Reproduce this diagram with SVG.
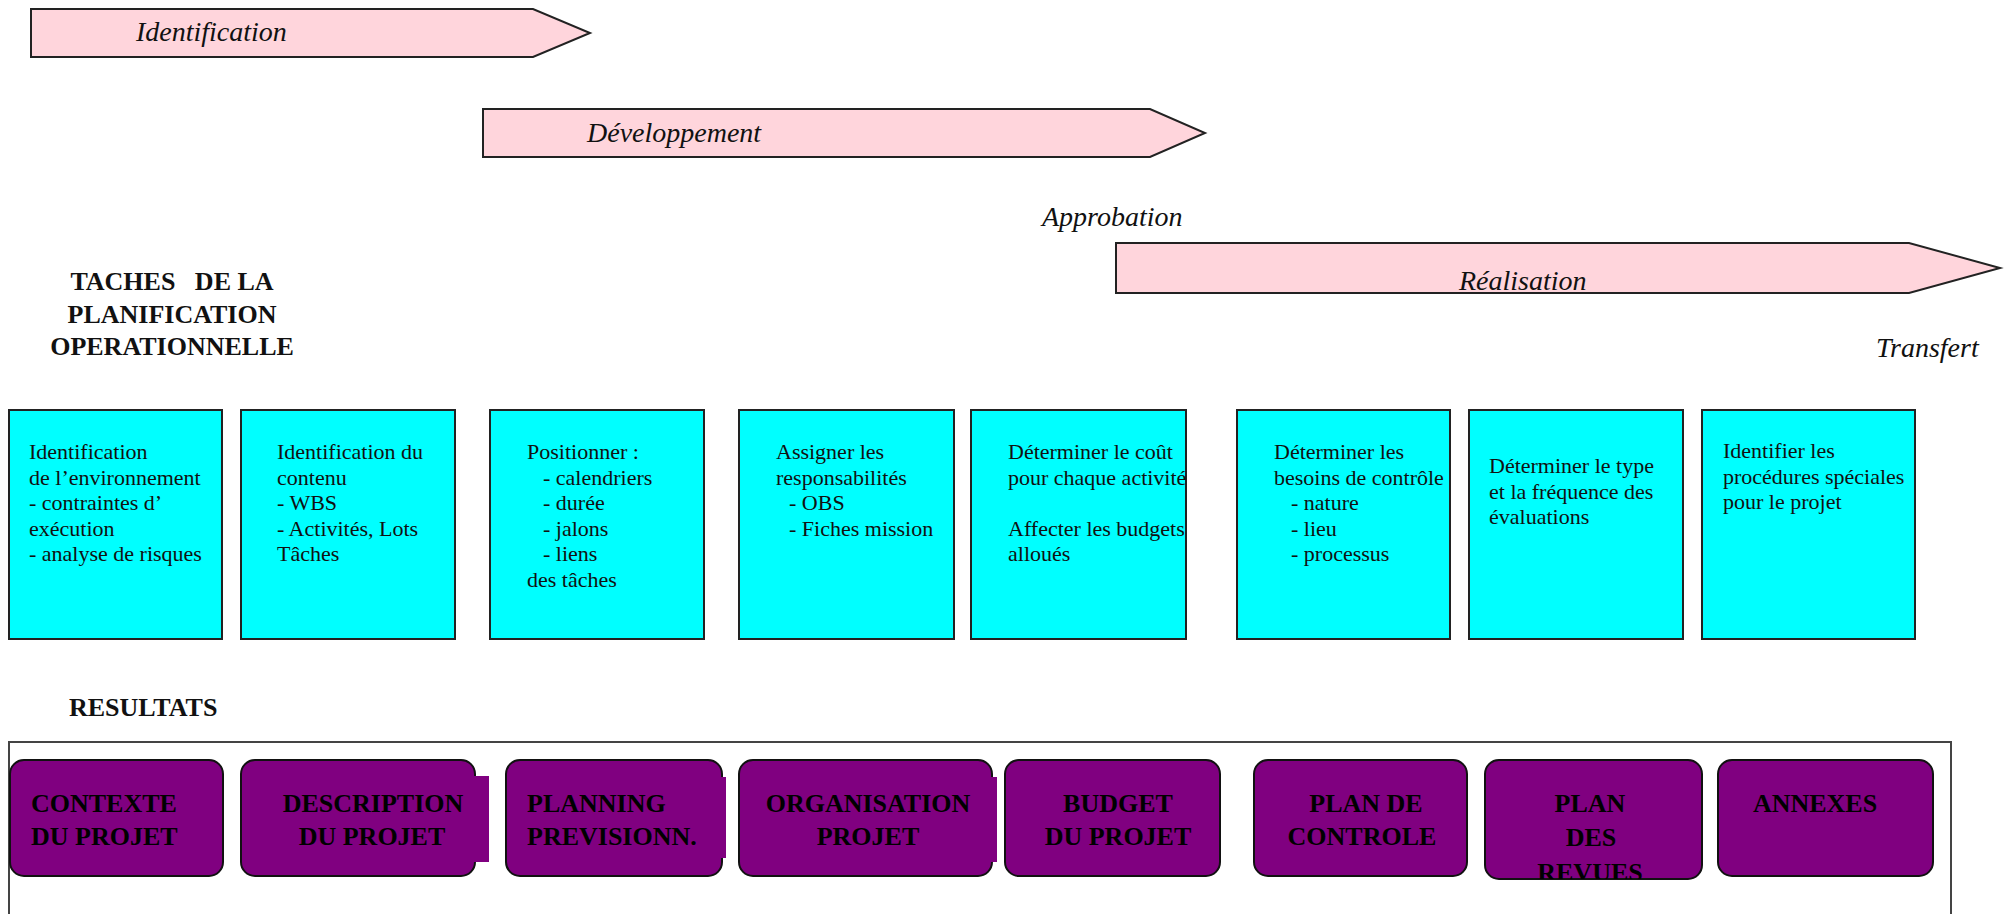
<svg xmlns="http://www.w3.org/2000/svg" width="2004" height="914" viewBox="0 0 2004 914">
<style>
.phase{fill:#FFD5DC;stroke:#222;stroke-width:2}
.task{fill:#00FFFF;stroke:#222;stroke-width:2}
.res{fill:#800080;stroke:#111;stroke-width:2}
.ext{fill:#800080}
.lbl{font-family:"Liberation Serif","Times New Roman",serif;font-style:italic;font-size:28px;fill:#111}
.hdr{font-family:"Liberation Serif","Times New Roman",serif;font-weight:bold;font-size:26px;fill:#111;white-space:pre}
.t{font-family:"Liberation Serif","Times New Roman",serif;font-size:22px;fill:#111}
.r{font-family:"Liberation Serif","Times New Roman",serif;font-weight:bold;font-size:26px;fill:#000}
.frame{fill:none;stroke:#444;stroke-width:2}
</style>
<defs>
<clipPath id="clipRevues"><rect x="1485" y="760" width="217" height="119"/></clipPath>
</defs>
<rect width="2004" height="914" fill="#fff"/>

<g id="phase-identification">
<polygon class="phase" points="31,9 533,9 590,33 533,57 31,57"/>
<text class="lbl" x="136" y="41">Identification</text>
</g>
<g id="phase-developpement">
<polygon class="phase" points="483,109 1150,109 1205,133 1150,157 483,157"/>
<text class="lbl" x="587" y="142">Développement</text>
</g>
<g id="label-approbation">
<text class="lbl" x="1042" y="226">Approbation</text>
</g>
<g id="phase-realisation">
<polygon class="phase" points="1116,243 1909,243 2000,268 1909,293 1116,293"/>
<text class="lbl" x="1459" y="290">Réalisation</text>
</g>
<g id="label-transfert">
<text class="lbl" x="1876" y="357">Transfert</text>
</g>

<g id="title-taches">
<text class="hdr" text-anchor="middle" x="172" y="290">TACHES   DE LA</text>
<text class="hdr" text-anchor="middle" x="172" y="323">PLANIFICATION</text>
<text class="hdr" text-anchor="middle" x="172" y="355">OPERATIONNELLE</text>
</g>

<g id="task-1">
<rect class="task" x="9" y="410" width="213" height="229"/>
<text class="t" y="459"><tspan x="29">Identification</tspan><tspan x="29" dy="25.5">de l’environnement</tspan><tspan x="29" dy="25.5">- contraintes d’</tspan><tspan x="29" dy="25.5">exécution</tspan><tspan x="29" dy="25.5">- analyse de risques</tspan></text>
</g>
<g id="task-2">
<rect class="task" x="241" y="410" width="214" height="229"/>
<text class="t" y="459"><tspan x="277">Identification du</tspan><tspan x="277" dy="25.5">contenu</tspan><tspan x="277" dy="25.5">- WBS</tspan><tspan x="277" dy="25.5">- Activités, Lots</tspan><tspan x="277" dy="25.5">Tâches</tspan></text>
</g>
<g id="task-3">
<rect class="task" x="490" y="410" width="214" height="229"/>
<text class="t" y="459"><tspan x="527">Positionner :</tspan><tspan x="543" dy="25.5">- calendriers</tspan><tspan x="543" dy="25.5">- durée</tspan><tspan x="543" dy="25.5">- jalons</tspan><tspan x="543" dy="25.5">- liens</tspan><tspan x="527" dy="25.5">des tâches</tspan></text>
</g>
<g id="task-4">
<rect class="task" x="739" y="410" width="215" height="229"/>
<text class="t" y="459"><tspan x="776">Assigner les</tspan><tspan x="776" dy="25.5">responsabilités</tspan><tspan x="789" dy="25.5">- OBS</tspan><tspan x="789" dy="25.5">- Fiches mission</tspan></text>
</g>
<g id="task-5">
<rect class="task" x="971" y="410" width="215" height="229"/>
<text class="t" y="459"><tspan x="1008">Déterminer le coût</tspan><tspan x="1008" dy="25.5">pour chaque activité</tspan><tspan x="1008" dy="51">Affecter les budgets</tspan><tspan x="1008" dy="25.5">alloués</tspan></text>
</g>
<g id="task-6">
<rect class="task" x="1237" y="410" width="213" height="229"/>
<text class="t" y="459"><tspan x="1274">Déterminer les</tspan><tspan x="1274" dy="25.5">besoins de contrôle</tspan><tspan x="1291" dy="25.5">- nature</tspan><tspan x="1291" dy="25.5">- lieu</tspan><tspan x="1291" dy="25.5">- processus</tspan></text>
</g>
<g id="task-7">
<rect class="task" x="1469" y="410" width="214" height="229"/>
<text class="t" y="473"><tspan x="1489">Déterminer le type</tspan><tspan x="1489" dy="25.5">et la fréquence des</tspan><tspan x="1489" dy="25.5">évaluations</tspan></text>
</g>
<g id="task-8">
<rect class="task" x="1702" y="410" width="213" height="229"/>
<text class="t" y="458"><tspan x="1723">Identifier les</tspan><tspan x="1723" dy="25.5">procédures spéciales</tspan><tspan x="1723" dy="25.5">pour le projet</tspan></text>
</g>

<g id="title-resultats">
<text class="hdr" x="69" y="716">RESULTATS</text>
</g>

<g id="results-frame">
<rect class="frame" x="9" y="742" width="1942" height="200"/>
</g>

<g id="res-1">
<rect class="res" x="10" y="760" width="213" height="116" rx="14"/>
<text class="r" x="31" y="812">CONTEXTE</text>
<text class="r" x="31" y="845">DU PROJET</text>
</g>
<g id="res-2">
<rect class="res" x="241" y="760" width="234" height="116" rx="14"/>
<rect class="ext" x="472" y="776" width="17" height="86"/>
<text class="r" text-anchor="middle" x="373" y="812">DESCRIPTION</text>
<text class="r" text-anchor="middle" x="372" y="845">DU PROJET</text>
</g>
<g id="res-3">
<rect class="res" x="506" y="760" width="216" height="116" rx="14"/>
<rect class="ext" x="719" y="777" width="7" height="81"/>
<text class="r" x="527" y="812">PLANNING</text>
<text class="r" x="527" y="845">PREVISIONN.</text>
</g>
<g id="res-4">
<rect class="res" x="739" y="760" width="253" height="116" rx="14"/>
<rect class="ext" x="989" y="777" width="8" height="85"/>
<text class="r" text-anchor="middle" x="868" y="812">ORGANISATION</text>
<text class="r" text-anchor="middle" x="868" y="845">PROJET</text>
</g>
<g id="res-5">
<rect class="res" x="1005" y="760" width="215" height="116" rx="14"/>
<text class="r" text-anchor="middle" x="1118" y="812">BUDGET</text>
<text class="r" text-anchor="middle" x="1118" y="845">DU PROJET</text>
</g>
<g id="res-6">
<rect class="res" x="1254" y="760" width="213" height="116" rx="14"/>
<text class="r" text-anchor="middle" x="1366" y="812">PLAN DE</text>
<text class="r" text-anchor="middle" x="1362" y="845">CONTROLE</text>
</g>
<g id="res-7">
<rect class="res" x="1485" y="760" width="217" height="119" rx="14"/>
<g clip-path="url(#clipRevues)">
<text class="r" text-anchor="middle" x="1590" y="812">PLAN</text>
<text class="r" text-anchor="middle" x="1591" y="846">DES</text>
<text class="r" text-anchor="middle" x="1590" y="881">REVUES</text>
</g>
</g>
<g id="res-8">
<rect class="res" x="1718" y="760" width="215" height="116" rx="14"/>
<text class="r" text-anchor="middle" x="1815" y="812">ANNEXES</text>
</g>

<g id="connectors"></g>
</svg>
